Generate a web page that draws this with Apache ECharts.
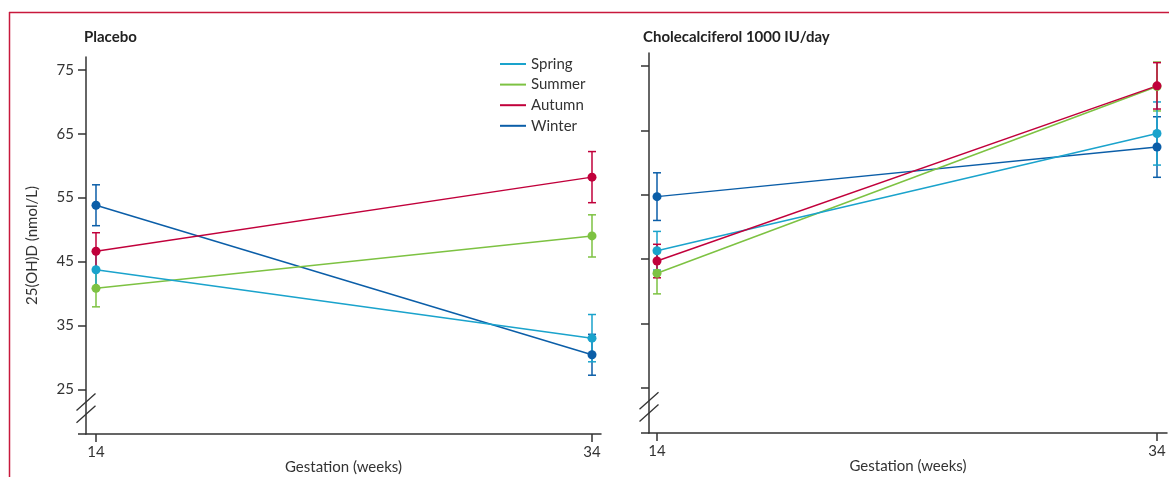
<!DOCTYPE html>
<html>
<head>
<meta charset="utf-8">
<script src="https://cdn.jsdelivr.net/npm/echarts@6/dist/echarts.min.js"></script>
<style>
html,body{margin:0;padding:0;background:#fff;}
#c{width:1169px;height:477px;}
</style>
</head>
<body>
<div id="c"></div>
<script>
// ---- data ----
const weeks = [14, 34];
const seasons = ['Spring', 'Summer', 'Autumn', 'Winter'];
const panelTitles = ['Placebo', 'Cholecalciferol 1000 IU/day'];
const yTickLabels = [25, 35, 45, 55, 65, 75];

// Placebo: means and error (half-width) at 14 and 34 weeks
const placeboSpring = [43.7, 33.0];
const placeboSummer = [40.8, 49.0];
const placeboAutumn = [46.6, 58.2];
const placeboWinter = [53.8, 30.4];
const placeboSpringErr = [3.0, 3.7];
const placeboSummerErr = [2.9, 3.3];
const placeboAutumnErr = [2.9, 4.0];
const placeboWinterErr = [3.2, 3.2];

// Cholecalciferol 1000 IU/day
const cholSpring = [46.3, 64.5];
const cholSummer = [42.8, 71.8];
const cholAutumn = [44.7, 71.9];
const cholWinter = [54.7, 62.4];
const cholSpringErr = [3.0, 4.9];
const cholSummerErr = [3.2, 3.8];
const cholAutumnErr = [2.6, 3.6];
const cholWinterErr = [3.7, 4.7];

// ---- styling ----
const colors = {Spring: '#1aa3cc', Summer: '#7dc242', Autumn: '#c1003b', Winter: '#0b5ea8'};
const FONT = 'Lato, "Open Sans", sans-serif';
const AXIS = '#333';
const Y_MIN = 18, Y_MAX = 77;

const panels = [
  {mean: {Spring: placeboSpring, Summer: placeboSummer, Autumn: placeboAutumn, Winter: placeboWinter},
   err: {Spring: placeboSpringErr, Summer: placeboSummerErr, Autumn: placeboAutumnErr, Winter: placeboWinterErr}},
  {mean: {Spring: cholSpring, Summer: cholSummer, Autumn: cholAutumn, Winter: cholWinter},
   err: {Spring: cholSpringErr, Summer: cholSummerErr, Autumn: cholAutumnErr, Winter: cholWinterErr}}
];

const grids = [
  {left: 86, right: 1169 - 601, top: 57, bottom: 43, outerBoundsMode: 'none', containLabel: false},
  {left: 649, right: 2, top: 53, bottom: 44, outerBoundsMode: 'none', containLabel: false}
];
const xRanges = [[13.597, 34.363], [13.68, 34.4]];

const xAxes = grids.map((g, i) => ({
  type: 'value', gridIndex: i, min: xRanges[i][0], max: xRanges[i][1],
  name: 'Gestation (weeks)', nameLocation: 'middle', nameGap: 26, nameMoveOverlap: false,
  nameTextStyle: {fontFamily: FONT, fontSize: 15, color: '#333'},
  axisLine: {show: true, onZero: false, lineStyle: {color: AXIS, width: 1.5}},
  axisTick: {show: true, length: 8, lineStyle: {color: AXIS, width: 1.5}, customValues: weeks},
  axisLabel: {fontFamily: FONT, fontSize: 15, color: '#333', margin: 11, customValues: weeks},
  splitLine: {show: false}
}));

const yAxes = grids.map((g, i) => ({
  type: 'value', gridIndex: i, min: Y_MIN, max: Y_MAX,
  name: i === 0 ? '25(OH)D (nmol/L)' : '', nameLocation: 'middle', nameGap: 46, nameMoveOverlap: false,
  nameTextStyle: {fontFamily: FONT, fontSize: 15, color: '#333'},
  axisLine: {show: true, lineStyle: {color: AXIS, width: 1.5}},
  axisTick: {show: true, length: 8, lineStyle: {color: AXIS, width: 1.5}, customValues: [Y_MIN].concat(yTickLabels)},
  axisLabel: {show: i === 0, fontFamily: FONT, fontSize: 15, color: '#333', margin: 12, customValues: yTickLabels},
  splitLine: {show: false}
}));

const drawOrder = ['Winter', 'Summer', 'Spring', 'Autumn'];
const series = [];
panels.forEach((p, pi) => {
  drawOrder.forEach(s => {
    const c = colors[s];
    series.push({
      type: 'custom', name: s + ' error', xAxisIndex: pi, yAxisIndex: pi,
      data: weeks.map((w, k) => [w, p.mean[s][k] - p.err[s][k], p.mean[s][k] + p.err[s][k]]),
      encode: {x: 0, y: [1, 2]},
      renderItem: (params, api) => {
        const x = api.value(0);
        const top = api.coord([x, api.value(2)]);
        const bot = api.coord([x, api.value(1)]);
        const w = 4;
        const st = {stroke: c, lineWidth: 1.5};
        return {type: 'group', children: [
          {type: 'line', shape: {x1: top[0], y1: top[1], x2: bot[0], y2: bot[1]}, style: st},
          {type: 'line', shape: {x1: top[0] - w, y1: top[1], x2: top[0] + w, y2: top[1]}, style: st},
          {type: 'line', shape: {x1: bot[0] - w, y1: bot[1], x2: bot[0] + w, y2: bot[1]}, style: st}
        ]};
      },
      silent: true
    });
    series.push({
      type: 'line', name: s, xAxisIndex: pi, yAxisIndex: pi,
      data: weeks.map((w, k) => [w, p.mean[s][k]]),
      symbol: 'circle', symbolSize: 9, showSymbol: true,
      lineStyle: {color: c, width: 1.5},
      itemStyle: {color: c},
      emphasis: {disabled: true},
      animation: false
    });
  });
});

const chart = echarts.init(document.getElementById('c'), null, {renderer: 'canvas'});
chart.setOption({
  animation: false,
  backgroundColor: '#fff',
  title: [
    {text: panelTitles[0], left: 79, top: 25, textStyle: {fontFamily: FONT, fontSize: 15, fontWeight: 'bold', color: '#222'}},
    {text: panelTitles[1], left: 638, top: 25, textStyle: {fontFamily: FONT, fontSize: 15, fontWeight: 'bold', color: '#222'}}
  ],
  legend: {
    data: seasons, orient: 'vertical', left: 495, top: 51,
    icon: 'rect', itemWidth: 26, itemHeight: 2, itemGap: 4.6,
    textStyle: {fontFamily: FONT, fontSize: 15, color: '#333', lineHeight: 16},
    selectedMode: false
  },
  grid: grids,
  xAxis: xAxes,
  yAxis: yAxes,
  series: series
});

// axis-break slashes and frame
const graphics = [
  {type: 'line', shape: {x1: 9, y1: 12.5, x2: 1169, y2: 12.5}, style: {stroke: '#c8193c', lineWidth: 1.5}},
  {type: 'line', shape: {x1: 9.5, y1: 12, x2: 9.5, y2: 477}, style: {stroke: '#c8193c', lineWidth: 1.5}}
];
[0, 1].forEach(i => {
  [23.0, 21.1].forEach(v => {
    const pt = chart.convertToPixel({xAxisIndex: i, yAxisIndex: i}, [xRanges[i][0], v]);
    graphics.push({type: 'line', shape: {x1: pt[0] - 9.5, y1: pt[1] + 8.5, x2: pt[0] + 9.5, y2: pt[1] - 8.5},
      style: {stroke: AXIS, lineWidth: 1.3}});
  });
});
chart.setOption({graphic: graphics});
</script>
</body>
</html>
